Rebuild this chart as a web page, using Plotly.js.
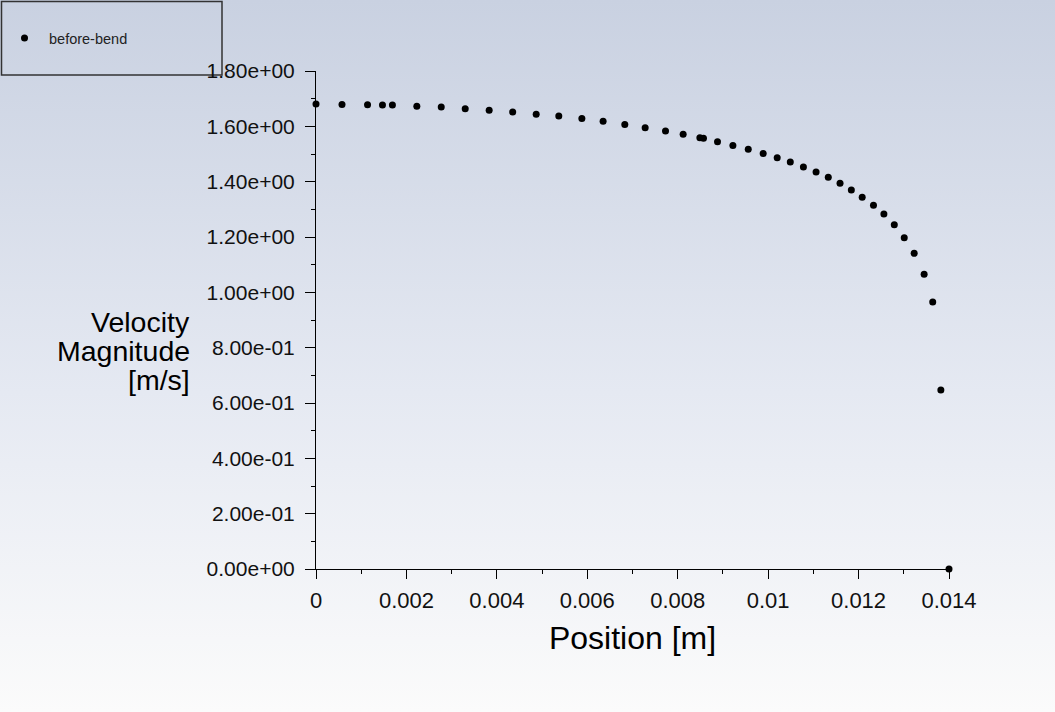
<!DOCTYPE html>
<html>
<head>
<meta charset="utf-8">
<script src="https://cdn.plot.ly/plotly-3.0.1.min.js"></script>
<style>
  html, body { margin:0; padding:0; width:1055px; height:712px; overflow:hidden; }
  body { background: linear-gradient(to bottom, #c9d1e1 0%, #e5e9f2 55%, #fbfbfb 100%); }
  #chart { width:1055px; height:712px; }
</style>
</head>
<body>
<div id="chart"></div>
<script>
// Data
const seriesName = "before-bend";
const positionM = [0, 0.000575, 0.00114, 0.00147, 0.00169, 0.00223, 0.00277, 0.00330, 0.00383, 0.00435,
  0.00487, 0.00537, 0.00588, 0.00635, 0.00683, 0.00728, 0.00773, 0.00812, 0.00849, 0.00857,
  0.00888, 0.00922, 0.00956, 0.00989, 0.01020, 0.01049, 0.01078, 0.01106, 0.01133, 0.01159,
  0.01184, 0.01208, 0.01233, 0.01256, 0.01279, 0.01301, 0.01323, 0.01345, 0.01364, 0.01382, 0.0140];
const velocityMag = [1.681, 1.679, 1.678, 1.677, 1.677, 1.673, 1.670, 1.664, 1.658, 1.652,
  1.644, 1.637, 1.628, 1.618, 1.607, 1.595, 1.583, 1.571, 1.559, 1.557,
  1.544, 1.531, 1.517, 1.502, 1.486, 1.471, 1.453, 1.435, 1.416, 1.394,
  1.370, 1.344, 1.315, 1.283, 1.244, 1.197, 1.141, 1.065, 0.965, 0.647, 0];
const yTickVals = [0, 0.2, 0.4, 0.6, 0.8, 1.0, 1.2, 1.4, 1.6, 1.8];
const yTickText = ["0.00e+00", "2.00e-01", "4.00e-01", "6.00e-01", "8.00e-01",
  "1.00e+00", "1.20e+00", "1.40e+00", "1.60e+00", "1.80e+00"];
const xTickVals = [0, 0.002, 0.004, 0.006, 0.008, 0.01, 0.012, 0.014];
const xTickText = ["0", "0.002", "0.004", "0.006", "0.008", "0.01", "0.012", "0.014"];
const xTitle = "Position [m]";
const yTitleLines = ["Velocity", "Magnitude", "[m/s]"];

const FONT = "Arial, 'Liberation Sans', sans-serif";

const trace = {
  x: positionM, y: velocityMag, name: seriesName,
  type: "scatter", mode: "markers",
  marker: { color: "#000", size: 7 },
  cliponaxis: false, showlegend: true
};

const annotations = yTitleLines.map((t, i) => ({
  text: t, xref: "paper", yref: "paper",
  x: (192 - 316) / 633, y: (569 - (322 + i * 29)) / 498,
  xanchor: "right", yanchor: "middle", showarrow: false,
  font: { family: FONT, size: 28.5, color: "#000" }
}));

const layout = {
  width: 1055, height: 712,
  margin: { l: 316, r: 106, t: 71, b: 143, pad: 0, autoexpand: false },
  paper_bgcolor: "rgba(0,0,0,0)", plot_bgcolor: "rgba(0,0,0,0)",
  font: { family: FONT, color: "#000" },
  showlegend: true,
  legend: {
    x: (0 - 316) / 633, y: (569 - 22) / 498, xanchor: "left", yanchor: "top",
    bgcolor: "rgba(0,0,0,0)", borderwidth: 0, itemwidth: 39,
    font: { family: FONT, size: 14.5, color: "#222" }
  },
  xaxis: {
    range: [0, 0.014], autorange: false,
    tickmode: "array", tickvals: xTickVals, ticktext: xTickText,
    ticks: "outside", ticklen: 9, tickcolor: "#000", tickwidth: 1,
    ticklabelstandoff: 3,
    minor: { ticks: "outside", ticklen: 4, tickcolor: "#000", dtick: 0.001, tick0: 0, showgrid: false },
    showline: true, linecolor: "#000", linewidth: 1,
    showgrid: false, zeroline: false,
    tickfont: { family: FONT, size: 22, color: "#111" },
    title: { text: xTitle, font: { family: FONT, size: 32, color: "#000" }, standoff: 14 }
  },
  yaxis: {
    range: [0, 1.8], autorange: false,
    tickmode: "array", tickvals: yTickVals, ticktext: yTickText,
    ticks: "outside", ticklen: 10, tickcolor: "#000", tickwidth: 1,
    ticklabelstandoff: 6,
    minor: { ticks: "outside", ticklen: 4, tickcolor: "#000", dtick: 0.1, tick0: 0, showgrid: false },
    showline: true, linecolor: "#000", linewidth: 1,
    showgrid: false, zeroline: false,
    tickfont: { family: FONT, size: 21, color: "#111" }
  },
  annotations: annotations,
  shapes: [{
    type: "rect", xref: "paper", yref: "paper",
    x0: (1.5 - 316) / 633, x1: (222 - 316) / 633,
    y0: (569 - 75) / 498, y1: (569 - 1.5) / 498,
    line: { color: "#333", width: 1.5 }, fillcolor: "rgba(0,0,0,0)", layer: "below"
  }]
};

Plotly.newPlot("chart", [trace], layout, { displayModeBar: false, staticPlot: true });
</script>
</body>
</html>
